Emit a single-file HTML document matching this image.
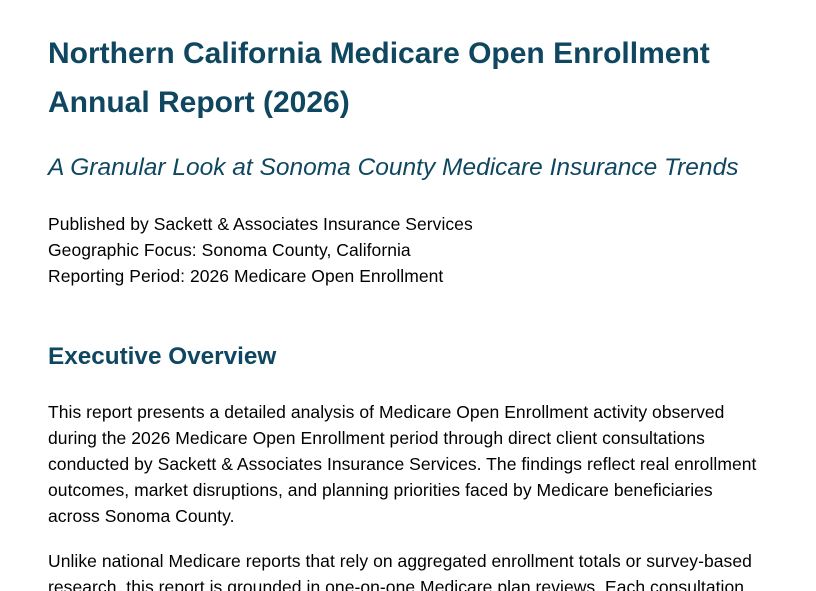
<!DOCTYPE html>
<html><head><meta charset="utf-8"><style>
html,body{margin:0;padding:0;background:#fff;width:816px;height:591px;overflow:hidden;position:relative}
div{position:absolute;left:48px;white-space:nowrap;line-height:1;font-family:"Liberation Sans",sans-serif}
.t{font-size:30px;font-weight:bold;color:#0f4761}
.s{font-size:24.5px;font-style:italic;color:#0f4761}
.h{font-size:24.3px;font-weight:bold;color:#0f4761}
.b{font-size:17.5px;color:#000;letter-spacing:0.05px}
</style></head><body>
<div class="t" style="top:39px">Northern California Medicare Open Enrollment</div>
<div class="t" style="top:88px">Annual Report (2026)</div>
<div class="s" style="top:156px">A Granular Look at Sonoma County Medicare Insurance Trends</div>
<div class="b" style="top:216px">Published by Sackett &amp; Associates Insurance Services</div>
<div class="b" style="top:242px">Geographic Focus: Sonoma County, California</div>
<div class="b" style="top:268px">Reporting Period: 2026 Medicare Open Enrollment</div>
<div class="h" style="top:345px">Executive Overview</div>
<div class="b" style="top:404px">This report presents a detailed analysis of Medicare Open Enrollment activity observed</div>
<div class="b" style="top:430px">during the 2026 Medicare Open Enrollment period through direct client consultations</div>
<div class="b" style="top:456px">conducted by Sackett &amp; Associates Insurance Services. The findings reflect real enrollment</div>
<div class="b" style="top:482px">outcomes, market disruptions, and planning priorities faced by Medicare beneficiaries</div>
<div class="b" style="top:508px">across Sonoma County.</div>
<div class="b" style="top:553px">Unlike national Medicare reports that rely on aggregated enrollment totals or survey-based</div>
<div class="b" style="top:579px">research, this report is grounded in one-on-one Medicare plan reviews. Each consultation</div>
</body></html>
